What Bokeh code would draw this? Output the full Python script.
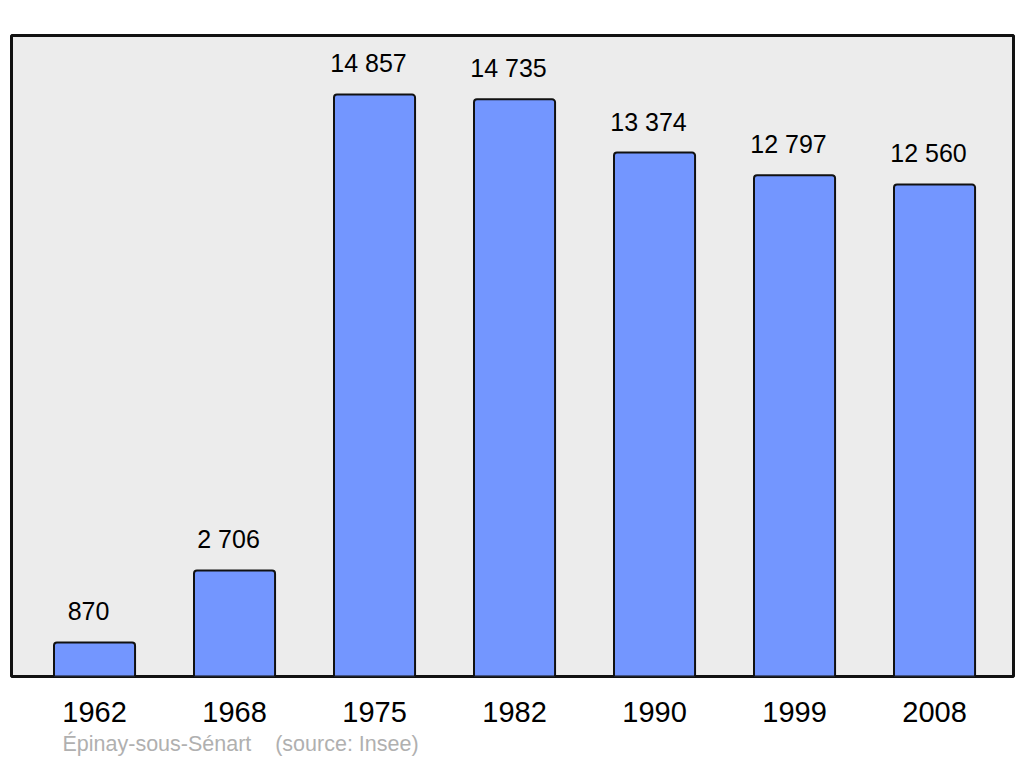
from bokeh.plotting import figure
from bokeh.models import Range1d, FixedTicker, ColumnDataSource, Title
from bokeh.core.properties import value
from bokeh.embed import file_html
from bokeh.resources import INLINE

years = ["1962", "1968", "1975", "1982", "1990", "1999", "2008"]
population = [870, 2706, 14857, 14735, 13374, 12797, 12560]
value_labels = ["870", "2 706", "14 857", "14 735", "13 374", "12 797", "12 560"]
commune = "Épinay-sous-Sénart"
source_note = "(source: Insee)"

FONT = "Liberation Sans"

xs = list(range(len(years)))
src = ColumnDataSource(dict(x=xs, top=population, lab=value_labels))

p = figure(width=1020, height=760, output_backend="svg", toolbar_location=None,
           x_range=Range1d(-0.593, 6.564), y_range=Range1d(0, 16363),
           min_border_left=11, min_border_right=7, min_border_top=35, min_border_bottom=84)
p.background_fill_color = "#ececec"
p.border_fill_color = "white"
p.outline_line_color = "#111111"
p.outline_line_width = 3
p.grid.visible = False
p.yaxis.visible = False

p.vbar(x="x", top="top", bottom=0, width=0.579, source=src, fill_color="#7396ff",
       line_color="#111111", line_width=2,
       border_radius=dict(top_left=3, top_right=3, bottom_left=0, bottom_right=0))

p.text(x="x", y="top", text="lab", source=src, x_offset=-6, y_offset=-31,
       text_align="center", text_baseline="middle", text_font=value(FONT),
       text_font_size="25px", text_color="black")

ax = p.xaxis[0]
ax.ticker = FixedTicker(ticks=xs)
ax.major_label_overrides = {i: y for i, y in zip(xs, years)}
ax.axis_line_color = None
ax.major_tick_line_color = None
ax.minor_tick_line_color = None
ax.major_label_text_font = FONT
ax.major_label_text_font_size = "29px"
ax.major_label_text_color = "black"
ax.major_label_standoff = 19

note = Title(text=commune + "\u00a0\u00a0\u00a0\u00a0" + source_note, align="left", offset=51,
             text_font=FONT, text_font_size="21.5px", text_font_style="normal",
             text_color="#b0b0b0", standoff=10)
p.add_layout(note, "below")

open("out.html", "w").write(file_html(p, INLINE))
